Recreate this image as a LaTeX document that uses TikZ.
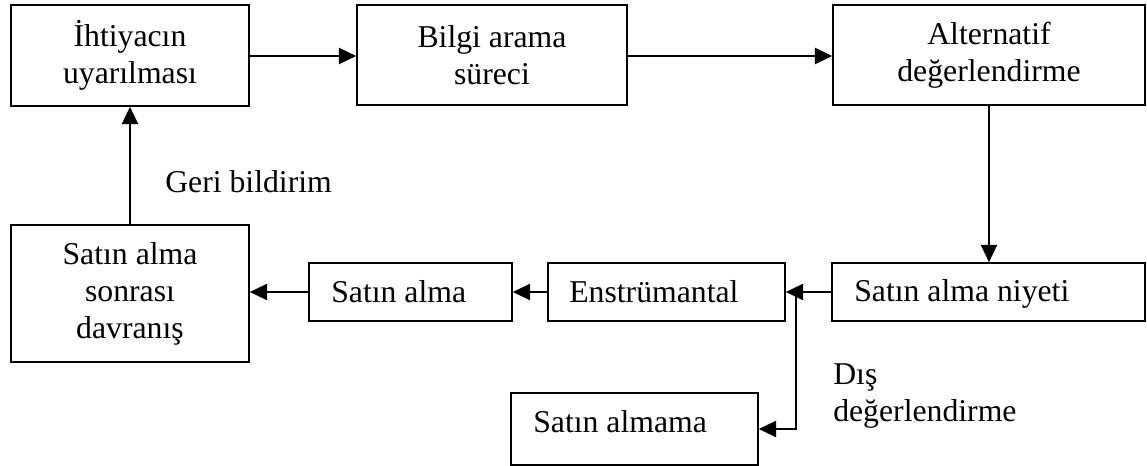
\documentclass[tikz,border=0pt]{standalone}
\usepackage{fontspec}
\setmainfont{Liberation Serif}
\usetikzlibrary{arrows.meta}

\begin{document}
\begin{tikzpicture}[x=0.75pt,y=-0.75pt,
  txt/.style={font=\fontsize{23.8pt}{27.75pt}\selectfont},
  box/.style={draw, line width=1.1pt, inner sep=0pt, align=center, txt},
  sz/.style 2 args={minimum width=#1*0.75pt, minimum height=#2*0.75pt},
  lbl/.style={inner sep=0pt, anchor=base west, txt},
  conn/.style={line width=1.6pt, -{Triangle[length=13pt,width=12pt]}}]
\useasboundingbox (0,0) rectangle (1147,466);

% upper row
\node[box, sz={238}{101}] (need) at (130,55.5) {İhtiyacın\\uyarılması};
\node[box, sz={270}{100}] (search) at (492,55) {Bilgi arama\\süreci};
\node[box, sz={312}{100}] (alt) at (989,55) {Alternatif\\değerlendirme};

% lower row
\node[box, sz={238}{137}] (post) at (130,293.5) {Satın alma\\sonrası\\davranış};
\node[box, sz={203}{58}] (buy) at (410.5,292) {};
\node[box, sz={237}{58}] (instr) at (666.5,292) {};
\node[box, sz={313}{58}] (intent) at (988.5,292) {};
\node[box, sz={247}{72}] (nobuy) at (634.5,429) {};

% left-aligned box texts
\node[lbl] (buy-t) at (331,303) {Satın alma};
\node[lbl] (instr-t) at (569,303) {Enstrümantal};
\node[lbl] (intent-t) at (854,302) {Satın alma niyeti};
\node[lbl] (nobuy-t) at (533,433) {Satın almama};

% free labels
\node[lbl] (feedback) at (165,193) {Geri bildirim};
\node[lbl] (ext1) at (833,385) {Dış};
\node[lbl] (ext2) at (833,422) {değerlendirme};

% connectors
\coordinate (split) at (796,292);
\draw[conn] (need.east |- 0,56) -- (search.west |- 0,56);
\draw[conn] (search.east |- 0,56) -- (alt.west |- 0,56);
\draw[conn] (alt.south) -- (intent.north -| alt.south);
\draw[conn] (intent.west) -- (instr.east);
\draw[conn] (split) |- (nobuy.east);
\draw[conn] (instr.west) -- (buy.east);
\draw[conn] (buy.west) -- (post.east |- buy.west);
\draw[conn] (post.north) -- (need.south);
\end{tikzpicture}
\end{document}
